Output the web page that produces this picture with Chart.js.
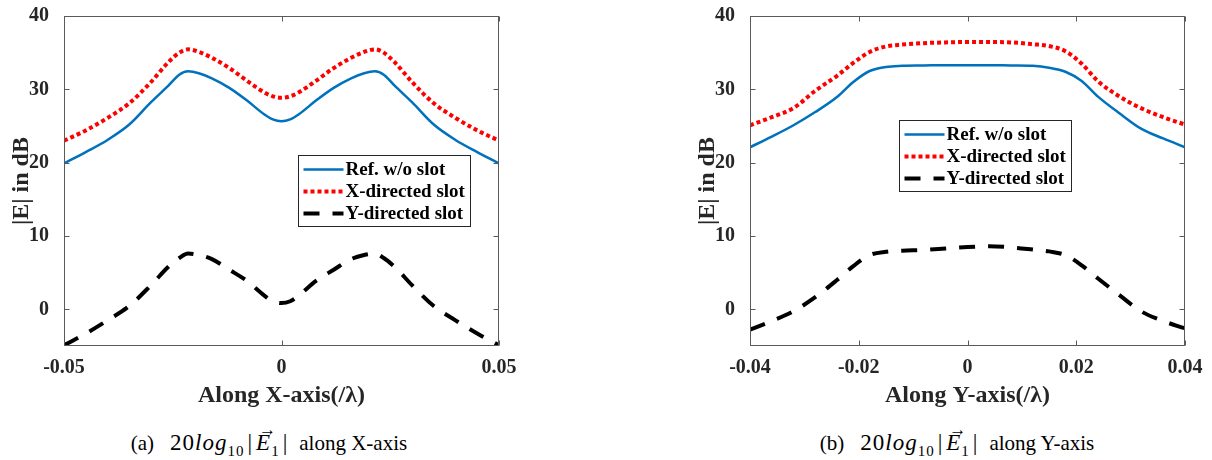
<!DOCTYPE html>
<html>
<head>
<meta charset="utf-8">
<script src="https://cdn.jsdelivr.net/npm/chart.js@4.4.1/dist/chart.umd.min.js"></script>
<style>
  body { margin: 0; background: #fff; width: 1212px; height: 460px; position: relative; overflow: hidden; }
  .panel { position: absolute; top: 0; width: 520px; height: 410px; }
  .caption { position: absolute; top: 430px; width: 538px; text-align: center; font: 21px "Liberation Serif", serif; color: #000; white-space: nowrap; }
  .caption sub { font-size: 15px; line-height: 0; }
  .math { font-size: 23px; letter-spacing: 1px; margin-left: 16px; margin-right: 8px; }
  .bar { margin: 0 3px; }
  .vec { position: relative; display: inline-block; font-style: italic; }
  .vec::after { content: '\2192'; position: absolute; left: 0.14em; top: -0.6em; font-size: 0.75em; font-style: normal; }
</style>
</head>
<body>
<div class="panel" style="left:0"><canvas id="chartX" width="520" height="410"></canvas></div>
<div class="panel" style="left:686px"><canvas id="chartY" width="520" height="410"></canvas></div>
<div class="caption" style="left:0">(a)<span class="math">20<i>log</i><sub>10</sub><span class="bar">|</span><span class="vec">E</span><sub>1</sub><span class="bar">|</span></span>along X-axis</div>
<div class="caption" style="left:688px">(b)<span class="math">20<i>log</i><sub>10</sub><span class="bar">|</span><span class="vec">E</span><sub>1</sub><span class="bar">|</span></span>along Y-axis</div>
<script>
const seriesNames = ['Ref. w/o slot', 'X-directed slot', 'Y-directed slot'];

// |E| (dB) sampled along the X-axis cut
const xPos   = [-0.05, -0.045, -0.04, -0.035, -0.03, -0.026, -0.0235, -0.0215, -0.019, -0.016, -0.012, -0.008, -0.004, -0.002, 0,
                0.002, 0.004, 0.008, 0.012, 0.016, 0.019, 0.0215, 0.0235, 0.026, 0.03, 0.035, 0.04, 0.045, 0.05];
const refX   = [19.9, 21.45, 23.1, 25.2, 28.25, 30.5, 32.0, 32.45, 32.2, 31.5, 30.2, 28.5, 26.6, 25.9, 25.65,
                25.9, 26.6, 28.5, 30.2, 31.5, 32.2, 32.45, 32.0, 30.5, 28.25, 25.2, 23.1, 21.45, 19.9];
const xSlotX = [23.0, 24.4, 26.1, 28.1, 31.0, 33.7, 35.0, 35.45, 35.1, 34.3, 32.9, 31.2, 29.6, 29.05, 28.85,
                29.05, 29.6, 31.2, 32.9, 34.3, 35.1, 35.45, 35.0, 33.7, 31.0, 28.1, 26.1, 24.4, 23.0];
const ySlotX = [-4.9, -3.3, -1.5, 0.45, 3.3, 5.8, 7.0, 7.6, 7.4, 6.85, 5.4, 3.9, 1.9, 1.1, 0.85,
                1.1, 1.9, 3.9, 5.4, 6.85, 7.4, 7.6, 7.0, 5.8, 3.3, 0.45, -1.5, -3.3, -4.9];

// |E| (dB) sampled along the Y-axis cut
const yPos   = [-0.04, -0.036, -0.032, -0.028, -0.024, -0.021, -0.018, -0.015, -0.012, -0.008, -0.004, 0,
                0.004, 0.008, 0.012, 0.015, 0.018, 0.021, 0.024, 0.028, 0.032, 0.036, 0.04];
const refY   = [22.1, 23.55, 25.1, 26.9, 28.95, 31.0, 32.5, 33.05, 33.2, 33.25, 33.3, 33.3,
                33.3, 33.25, 33.2, 32.95, 32.4, 31.15, 29.0, 26.7, 24.6, 23.3, 22.1];
const xSlotY = [25.1, 26.2, 27.45, 29.8, 31.85, 33.6, 35.1, 35.85, 36.1, 36.3, 36.4, 36.45,
                36.45, 36.4, 36.15, 35.9, 35.2, 33.5, 31.1, 29.0, 27.4, 26.2, 25.2];
const ySlotY = [-2.76, -1.6, -0.25, 1.65, 4.0, 5.9, 7.4, 7.85, 8.0, 8.1, 8.3, 8.5,
                8.6, 8.45, 8.15, 7.9, 7.4, 6.0, 4.2, 1.9, -0.3, -1.6, -2.6];

const xTicksX = [-0.05, 0, 0.05];
const xTicksY = [-0.04, -0.02, 0, 0.02, 0.04];
const yTicks = [0, 10, 20, 30, 40];

const lineStyles = [
  { borderColor: '#0072BD', borderWidth: 2.5, borderDash: [] },
  { borderColor: '#FF0000', borderWidth: 4, borderDash: [4, 3] },
  { borderColor: '#000000', borderWidth: 4, borderDash: [16, 13] }
];

const serif = '"Liberation Serif", "Times New Roman", serif';
const axisColor = '#262626';

// box around the plot, inward tick marks and the inset legend
const boxLegend = {
  id: 'boxLegend',
  afterDraw(chart, args, opts) {
    const { ctx, chartArea: a, scales } = chart;
    const tick = 5;
    ctx.save();
    ctx.strokeStyle = '#5a5a5a';
    ctx.lineWidth = 1;
    ctx.setLineDash([]);
    const L = Math.round(a.left) + 0.5, R = Math.round(a.right) - 0.5;
    const T = Math.round(a.top) + 0.5, B = Math.round(a.bottom) - 0.5;
    ctx.strokeRect(L, T, R - L, B - T);
    ctx.beginPath();
    scales.x.ticks.forEach(t => {
      const px = Math.round(scales.x.getPixelForValue(t.value)) + 0.5;
      ctx.moveTo(px, B); ctx.lineTo(px, B - tick);
      ctx.moveTo(px, T); ctx.lineTo(px, T + tick);
    });
    scales.y.ticks.forEach(t => {
      const py = Math.round(scales.y.getPixelForValue(t.value)) + 0.5;
      ctx.moveTo(L, py); ctx.lineTo(L + tick, py);
      ctx.moveTo(R, py); ctx.lineTo(R - tick, py);
    });
    ctx.stroke();

    // legend
    const bx = Math.round(a.left + opts.left) + 0.5;
    const by = Math.round(a.top + opts.top) + 0.5;
    const bw = 172, bh = 71;
    ctx.fillStyle = '#fff';
    ctx.fillRect(bx, by, bw, bh);
    ctx.strokeStyle = axisColor;
    ctx.strokeRect(bx, by, bw, bh);
    ctx.font = 'bold 19px ' + serif;
    ctx.textBaseline = 'middle';
    chart.data.datasets.forEach((ds, i) => {
      const ry = by + 14 + i * 22;
      ctx.beginPath();
      ctx.setLineDash(ds.borderDash || []);
      ctx.lineWidth = ds.borderWidth;
      ctx.strokeStyle = ds.borderColor;
      ctx.moveTo(bx + 5, ry);
      ctx.lineTo(bx + 45, ry);
      ctx.stroke();
      ctx.setLineDash([]);
      ctx.fillStyle = '#000';
      ctx.fillText(ds.label, bx + 47, ry + 1);
    });
    ctx.restore();
  }
};

function makeChart(id, xs, series, xTicks, xTitle, legendPos) {
  const datasets = series.map((ys, i) => Object.assign({
    label: seriesNames[i],
    data: xs.map((x, k) => ({ x: x, y: ys[k] })),
    pointRadius: 0,
    fill: false,
    cubicInterpolationMode: 'monotone',
    borderCapStyle: 'butt'
  }, lineStyles[i]));

  return new Chart(document.getElementById(id), {
    type: 'line',
    data: { datasets: datasets },
    plugins: [boxLegend],
    options: {
      responsive: false,
      animation: false,
      layout: { padding: { top: 16, right: 21, left: 0, bottom: 0 } },
      plugins: {
        legend: { display: false },
        tooltip: { enabled: false },
        boxLegend: legendPos
      },
      scales: {
        x: {
          type: 'linear',
          min: xs[0],
          max: xs[xs.length - 1],
          afterBuildTicks: s => { s.ticks = xTicks.map(v => ({ value: v })); },
          afterFit: s => { s.height = 64; s.paddingLeft = 0; s.paddingRight = 0; },
          grid: { display: false },
          border: { display: false },
          ticks: {
            autoSkip: false,
            maxRotation: 0,
            padding: 1.5,
            color: axisColor,
            font: { family: serif, size: 20, weight: 'bold' },
            callback: v => String(v)
          },
          title: {
            display: true,
            text: xTitle,
            color: axisColor,
            padding: { top: 0, bottom: 0 },
            font: { family: serif, size: 24, weight: 'bold' }
          }
        },
        y: {
          min: -5,
          max: 40,
          afterBuildTicks: s => { s.ticks = yTicks.map(v => ({ value: v })); },
          afterFit: s => { s.width = 64; s.paddingTop = 0; s.paddingBottom = 0; },
          grid: { display: false },
          border: { display: false },
          ticks: {
            padding: 7,
            color: axisColor,
            font: { family: serif, size: 20, weight: 'bold' }
          },
          title: {
            display: true,
            text: '|E| in dB',
            color: axisColor,
            padding: { top: 7, bottom: 0 },
            font: { family: serif, size: 24, weight: 'bold' }
          }
        }
      }
    }
  });
}

makeChart('chartX', xPos, [refX, xSlotX, ySlotX], xTicksX, 'Along X-axis(/\u03bb)', { left: 234, top: 139 });
makeChart('chartY', yPos, [refY, xSlotY, ySlotY], xTicksY, 'Along Y-axis(/\u03bb)', { left: 149, top: 104 });
</script>
</body>
</html>
